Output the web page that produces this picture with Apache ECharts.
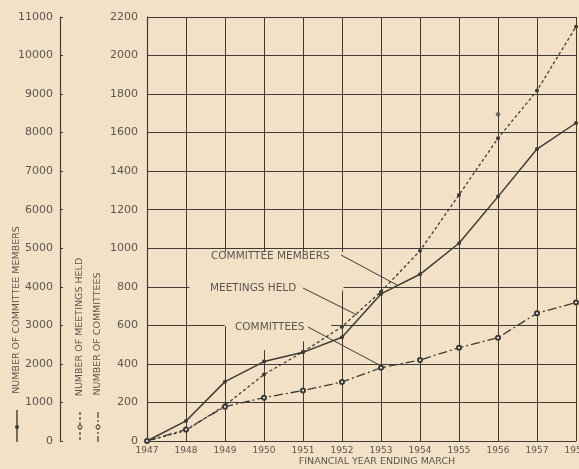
<!DOCTYPE html>
<html>
<head>
<meta charset="utf-8">
<script src="https://cdn.jsdelivr.net/npm/echarts@6/dist/echarts.min.js"></script>
<style>
html,body{margin:0;padding:0;background:#f2e1c7;}
#chart{width:579px;height:469px;}
</style>
</head>
<body>
<div id="chart"></div>
<script>
// ---- data ----
const years = [1947, 1948, 1949, 1950, 1951, 1952, 1953, 1954, 1955, 1956, 1957, 1958];
const committeeMembers = [0, 520, 1540, 2060, 2300, 2690, 3815, 4325, 5130, 6340, 7575, 8250];
const meetingsHeld = [0, 55, 185, 345, 462, 593, 775, 987, 1277, 1571, 1818, 2150];
const committees = [0, 60, 178, 225, 262, 306, 380, 420, 484, 536, 663, 718];
const extraMeetingYear = [1956];
const extraMeetingValue = [1695];
const xAxisTitle = 'FINANCIAL YEAR ENDING MARCH';
const legendMembers = 'NUMBER OF COMMITTEE MEMBERS';
const legendMeetings = 'NUMBER OF MEETINGS HELD';
const legendCommittees = 'NUMBER OF COMMITTEES';
const noteMembers = 'COMMITTEE MEMBERS';
const noteMeetings = 'MEETINGS HELD';
const noteCommittees = 'COMMITTEES';

const ink = '#3e3a34';
const textInk = '#5b564e';
const bg = '#f2e1c7';
const font = 'DejaVu Sans';

const pair = (vals) => years.map((y, i) => [y, vals[i]]);
const plain = v => String(v);

const chart = echarts.init(document.getElementById('chart'));
chart.setOption({
  backgroundColor: bg,
  animation: false,
  textStyle: { fontFamily: font },
  grid: { left: 147, right: 3, top: 17, bottom: 28, containLabel: false, outerBoundsMode: 'none' },
  xAxis: {
    type: 'value', min: 1947, max: 1958, interval: 1, z: 0,
    axisLine: { show: true, lineStyle: { color: ink, width: 1.2 } },
    axisTick: { show: false },
    axisLabel: { formatter: plain, color: textInk, fontSize: 9, margin: 5, fontFamily: font },
    splitLine: { show: true, lineStyle: { color: ink, width: 1 } }
  },
  yAxis: [
    {
      type: 'value', min: 0, max: 2200, interval: 200, position: 'left', z: 0,
      axisLine: { show: true, lineStyle: { color: ink, width: 1.2 } },
      axisTick: { show: false },
      axisLabel: { formatter: plain, color: textInk, fontSize: 11, margin: 9, fontFamily: font },
      splitLine: { show: true, lineStyle: { color: ink, width: 1 } }
    },
    {
      type: 'value', min: 0, max: 11000, interval: 1000, position: 'left', offset: 87, z: 0,
      axisLine: { show: true, onZero: false, lineStyle: { color: ink, width: 1.2 } },
      axisTick: { show: true, inside: true, length: 3, lineStyle: { color: ink } },
      axisLabel: { formatter: plain, color: textInk, fontSize: 11, margin: 7, fontFamily: font },
      splitLine: { show: false }
    }
  ],
  series: [
    {
      name: 'Committee members', type: 'line', yAxisIndex: 1, data: pair(committeeMembers),
      symbol: 'circle', symbolSize: 4, z: 3,
      lineStyle: { color: ink, width: 1.5 }, itemStyle: { color: ink }
    },
    {
      name: 'Meetings held', type: 'line', yAxisIndex: 0, data: pair(meetingsHeld),
      symbol: 'circle', symbolSize: 4, z: 3,
      lineStyle: { color: ink, width: 1.3, type: [3, 2.5] }, itemStyle: { color: ink }
    },
    {
      name: 'Meetings held (extra point)', type: 'scatter', yAxisIndex: 0,
      data: extraMeetingYear.map((y, i) => [y, extraMeetingValue[i]]),
      symbol: 'circle', symbolSize: 4.5, z: 3, itemStyle: { color: '#5a554d' }
    },
    {
      name: 'Committees', type: 'line', yAxisIndex: 0, data: pair(committees),
      symbol: 'emptyCircle', symbolSize: 4, z: 3,
      lineStyle: { color: ink, width: 1.3, type: [9, 3, 2, 3] }, itemStyle: { color: ink, borderColor: ink, borderWidth: 1 }
    }
  ],
  graphic: [
    // cleared area behind annotations
    { type: 'polygon', z: 1, silent: true,
      shape: { points: [[189,252],[344,252],[344,286],[331,326],[305,341],[266,351],[228,329],[189,287]] },
      style: { fill: bg } },
    // annotations
    { type: 'text', z: 4, x: 211, y: 256, style: { text: noteMembers, fill: textInk, font: '10.5px "DejaVu Sans"', verticalAlign: 'middle' } },
    { type: 'line', z: 4, shape: { x1: 341, y1: 255, x2: 397, y2: 285 }, style: { stroke: ink, lineWidth: 1 } },
    { type: 'text', z: 4, x: 210, y: 288, style: { text: noteMeetings, fill: textInk, font: '10.5px "DejaVu Sans"', verticalAlign: 'middle' } },
    { type: 'line', z: 4, shape: { x1: 303, y1: 288, x2: 357, y2: 315 }, style: { stroke: ink, lineWidth: 1 } },
    { type: 'text', z: 4, x: 235, y: 327, style: { text: noteCommittees, fill: textInk, font: '10.5px "DejaVu Sans"', verticalAlign: 'middle' } },
    { type: 'line', z: 4, shape: { x1: 308, y1: 327, x2: 385, y2: 368 }, style: { stroke: ink, lineWidth: 1 } },
    // x axis title
    { type: 'text', z: 4, x: 377, y: 462, style: { text: xAxisTitle, fill: textInk, font: '9.5px "DejaVu Sans"', align: 'center', verticalAlign: 'middle' } },
    // rotated legend texts
    { type: 'text', z: 4, x: 17, y: 310, rotation: Math.PI / 2, style: { text: legendMembers, fill: textInk, font: '9.5px "DejaVu Sans"', align: 'center', verticalAlign: 'middle' } },
    { type: 'text', z: 4, x: 80, y: 327, rotation: Math.PI / 2, style: { text: legendMeetings, fill: textInk, font: '9.5px "DejaVu Sans"', align: 'center', verticalAlign: 'middle' } },
    { type: 'text', z: 4, x: 98, y: 334, rotation: Math.PI / 2, style: { text: legendCommittees, fill: textInk, font: '9.5px "DejaVu Sans"', align: 'center', verticalAlign: 'middle' } },
    // legend symbols
    { type: 'line', z: 4, shape: { x1: 17, y1: 410, x2: 17, y2: 442 }, style: { stroke: ink, lineWidth: 1.4 } },
    { type: 'circle', z: 4, shape: { cx: 17, cy: 427, r: 2 }, style: { fill: ink } },
    { type: 'line', z: 4, shape: { x1: 80, y1: 412, x2: 80, y2: 442 }, style: { stroke: ink, lineWidth: 1.2, lineDash: [3, 2] } },
    { type: 'circle', z: 4, shape: { cx: 80, cy: 427, r: 2 }, style: { fill: bg, stroke: ink, lineWidth: 1 } },
    { type: 'line', z: 4, shape: { x1: 98, y1: 412, x2: 98, y2: 442 }, style: { stroke: ink, lineWidth: 1.2, lineDash: [6, 2, 2, 2] } },
    { type: 'circle', z: 4, shape: { cx: 98, cy: 427, r: 2 }, style: { fill: bg, stroke: ink, lineWidth: 1 } }
  ]
});
</script>
</body>
</html>
